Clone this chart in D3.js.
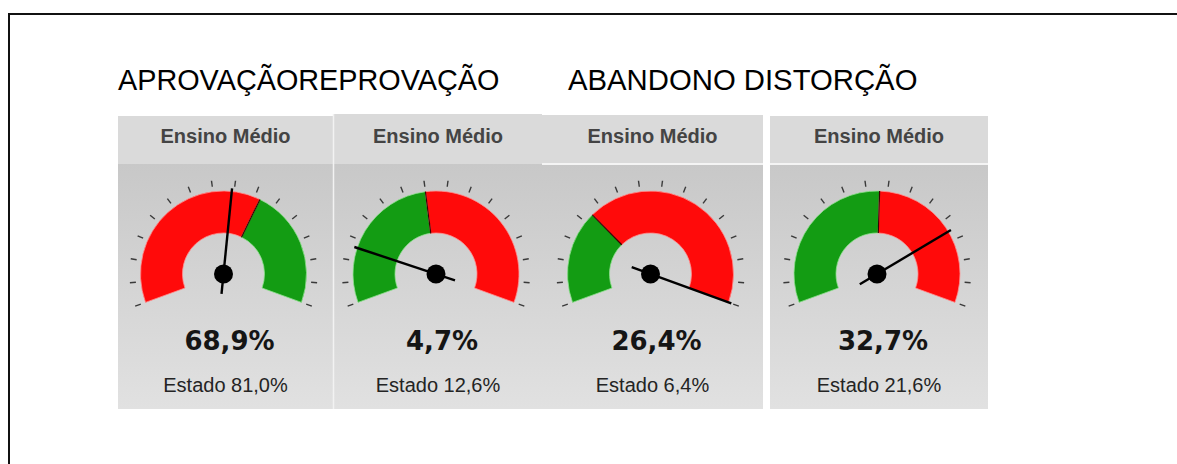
<!DOCTYPE html>
<html lang="pt">

<head>
  <meta charset="utf-8">
  <title>Indicadores - Ensino Médio</title>
  <script src="https://d3js.org/d3.v7.min.js"></script>
  <style>
    body {
      margin: 0;
      background: #fff;
      overflow: hidden;
    }

    svg {
      display: block;
    }
  </style>
</head>

<body>
  <script>
    // Data
    const indicadores = ["APROVAÇÃO", "REPROVAÇÃO", "ABANDONO", "DISTORÇÃO"];
    const nivel = "Ensino Médio";
    const valores = [68.9, 4.7, 26.4, 32.7];      // escola
    const estado = [81.0, 12.6, 6.4, 21.6];       // referência do estado (divisão verde/vermelho)
    const escalaMax = [131, 27, 21.5, 42.5];      // fim do mostrador (estimado)
    const maiorMelhor = [true, false, false, false];

    // Layout of the four panels (pixels)
    const panelLeft = [118, 334, 542, 770];
    const panelRight = [333, 542, 763, 988];
    const panelTop = [116, 114, 115, 116];
    const headerBottom = 164;
    const panelBottom = 409;
    const gaugeY = 274;

    const width = 1177;
    const height = 464;

    const svg = d3.select("body")
      .append("svg")
      .attr("width", width)
      .attr("height", height);

    // outer frame (runs off the right and bottom edges)
    svg.append("rect")
      .attr("x", 9)
      .attr("y", 14)
      .attr("width", width + 20)
      .attr("height", height + 20)
      .attr("fill", "none")
      .attr("stroke", "#111")
      .attr("stroke-width", 2);

    // titles
    const titleFont = "'Liberation Sans', Arial, sans-serif";
    svg.append("text")
      .attr("x", 118)
      .attr("y", 90)
      .attr("font-family", titleFont)
      .attr("font-size", 28.8)
      .attr("fill", "#000")
      .text(indicadores[0] + indicadores[1]);
    svg.append("text")
      .attr("x", 568)
      .attr("y", 90)
      .attr("font-family", titleFont)
      .attr("font-size", 29.3)
      .attr("fill", "#000")
      .text(indicadores[2] + " " + indicadores[3]);

    // gradients
    const defs = svg.append("defs");

    const bodyGrad = defs.append("linearGradient")
      .attr("id", "bodyGrad")
      .attr("x1", 0).attr("y1", 0).attr("x2", 0).attr("y2", 1);
    bodyGrad.append("stop").attr("offset", "0%").attr("stop-color", "#c8c8c8");
    bodyGrad.append("stop").attr("offset", "100%").attr("stop-color", "#e1e1e1");

    const redGrad = defs.append("linearGradient")
      .attr("id", "redGrad")
      .attr("gradientUnits", "userSpaceOnUse")
      .attr("x1", 0).attr("y1", gaugeY - 84).attr("x2", 0).attr("y2", gaugeY + 30);
    redGrad.append("stop").attr("offset", "0%").attr("stop-color", "#ff0a0a");
    redGrad.append("stop").attr("offset", "45%").attr("stop-color", "#f40000");
    redGrad.append("stop").attr("offset", "72%").attr("stop-color", "#d60000");
    redGrad.append("stop").attr("offset", "100%").attr("stop-color", "#b00000");

    const greenGrad = defs.append("linearGradient")
      .attr("id", "greenGrad")
      .attr("gradientUnits", "userSpaceOnUse")
      .attr("x1", 0).attr("y1", gaugeY - 84).attr("x2", 0).attr("y2", gaugeY + 30);
    greenGrad.append("stop").attr("offset", "0%").attr("stop-color", "#139c13");
    greenGrad.append("stop").attr("offset", "100%").attr("stop-color", "#0a8c0a");

    // number format with comma as decimal separator
    const pt = d3.formatLocale({
      decimal: ",",
      thousands: ".",
      grouping: [3],
      currency: ["R$", ""]
    });
    const fmt = pt.format(".1f");

    const toRad = d => d * Math.PI / 180;
    const rOuter = 83;
    const rInner = 41;

    const arc = d3.arc()
      .innerRadius(rInner)
      .outerRadius(rOuter)
      .startAngle(d => toRad(d.a0))
      .endAngle(d => toRad(d.a1));

    indicadores.forEach(function(nome, i) {
      const x0 = panelLeft[i];
      const x1 = panelRight[i];
      const cx = (x0 + x1) / 2;
      const g = svg.append("g").attr("class", "painel");

      // header
      g.append("rect")
        .attr("x", x0).attr("y", panelTop[i])
        .attr("width", x1 - x0).attr("height", headerBottom - panelTop[i])
        .attr("fill", "#dadada");
      // body
      g.append("rect")
        .attr("x", x0).attr("y", headerBottom)
        .attr("width", x1 - x0).attr("height", panelBottom - headerBottom)
        .attr("fill", "url(#bodyGrad)");
      if (i >= 2) {
        g.append("line")
          .attr("x1", x0).attr("x2", x1)
          .attr("y1", headerBottom).attr("y2", headerBottom)
          .attr("stroke", "#f4f4f4").attr("stroke-width", 2);
      }

      g.append("text")
        .attr("x", cx)
        .attr("y", 143)
        .attr("text-anchor", "middle")
        .attr("font-family", titleFont)
        .attr("font-weight", "bold")
        .attr("font-size", 20)
        .attr("fill", "#444")
        .text(nivel);

      // gauge
      const angle = d3.scaleLinear()
        .domain([0, escalaMax[i]])
        .range([-110, 110])
        .clamp(true);
      const split = angle(estado[i]);
      const low = maiorMelhor[i] ? "red" : "green";
      const high = maiorMelhor[i] ? "green" : "red";
      const segs = [
        { a0: -110, a1: split, c: low },
        { a0: split, a1: 110, c: high }
      ];

      const gauge = g.append("g")
        .attr("transform", "translate(" + (cx - 2) + "," + gaugeY + ")");

      // ticks
      const ticks = d3.range(16).map(k => -110 + k * 220 / 15);
      gauge.selectAll("line.tick")
        .data(ticks)
        .enter()
        .append("line")
        .attr("class", "tick")
        .attr("x1", d => 88 * Math.sin(toRad(d)))
        .attr("y1", d => -88 * Math.cos(toRad(d)))
        .attr("x2", d => 94 * Math.sin(toRad(d)))
        .attr("y2", d => -94 * Math.cos(toRad(d)))
        .attr("stroke", "#3a3a3a")
        .attr("stroke-width", 1.4);

      gauge.selectAll("path.seg")
        .data(segs)
        .enter()
        .append("path")
        .attr("class", "seg")
        .attr("d", arc)
        .attr("fill", d => d.c === "red" ? "url(#redGrad)" : "url(#greenGrad)")
        .attr("stroke", d => d.c === "red" ? "#ff9090" : "#8fe08f")
        .attr("stroke-width", 0.8);

      // dividing edge
      gauge.append("line")
        .attr("x1", rInner * Math.sin(toRad(split)))
        .attr("y1", -rInner * Math.cos(toRad(split)))
        .attr("x2", rOuter * Math.sin(toRad(split)))
        .attr("y2", -rOuter * Math.cos(toRad(split)))
        .attr("stroke", "#3a0000")
        .attr("stroke-width", 1.2);

      // needle
      const a = toRad(angle(valores[i]));
      gauge.append("line")
        .attr("x1", -20 * Math.sin(a))
        .attr("y1", 20 * Math.cos(a))
        .attr("x2", 86 * Math.sin(a))
        .attr("y2", -86 * Math.cos(a))
        .attr("stroke", "#000")
        .attr("stroke-width", 2.4);
      gauge.append("circle")
        .attr("r", 9.5)
        .attr("fill", "#000");

      // values
      g.append("text")
        .attr("x", cx + 4)
        .attr("y", 350)
        .attr("text-anchor", "middle")
        .attr("font-family", "'DejaVu Sans', Verdana, sans-serif")
        .attr("font-weight", "bold")
        .attr("font-size", 26)
        .attr("fill", "#151515")
        .text(fmt(valores[i]) + "%");

      g.append("text")
        .attr("x", cx)
        .attr("y", 392)
        .attr("text-anchor", "middle")
        .attr("font-family", titleFont)
        .attr("font-size", 20)
        .attr("fill", "#242424")
        .text("Estado " + fmt(estado[i]) + "%");
    });

    // thin white gap between first and second panel
    svg.append("line")
      .attr("x1", 333.5).attr("x2", 333.5)
      .attr("y1", panelTop[1]).attr("y2", panelBottom)
      .attr("stroke", "#f2f2f2")
      .attr("stroke-width", 1.5);
  </script>
</body>

</html>
